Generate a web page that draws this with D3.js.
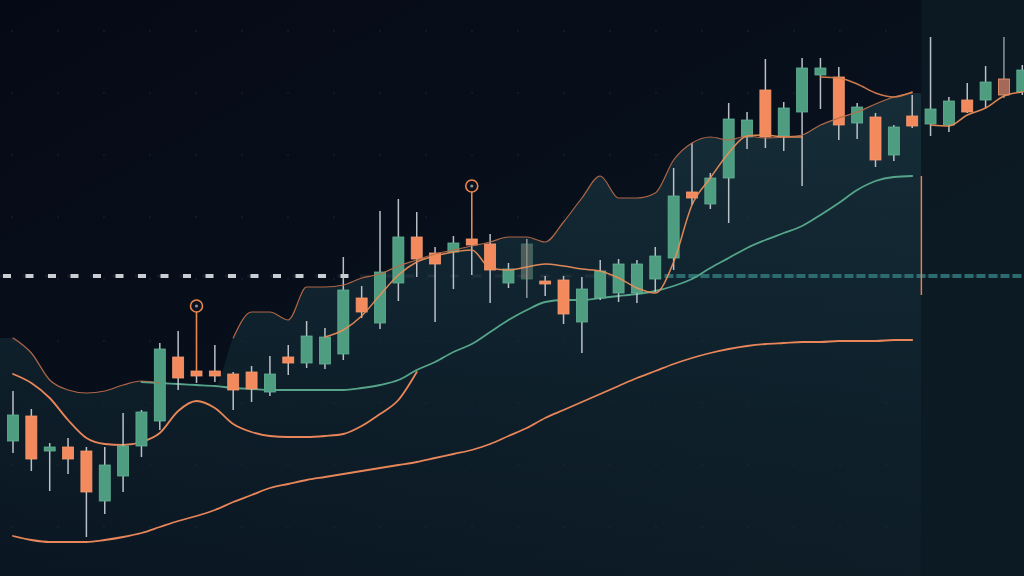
<!DOCTYPE html>
<html><head><meta charset="utf-8">
<script src="https://cdn.jsdelivr.net/npm/d3@7"></script>
<style>html,body{margin:0;padding:0;background:#070d1a;overflow:hidden}svg{display:block}</style>
</head><body><svg id="c" width="1024" height="576"></svg>
<script>
// ---------------- data ----------------
const categories = d3.range(1, 57).map(d => "T" + d);
const open  = [113.5,116.0,112.5,112.9,112.5,107.5,110.0,113.0,115.5,121.9,
               120.5,120.5,120.2,120.4,118.4,121.9,121.3,121.2,122.2,127.8,
               125.3,129.3,133.9,132.3,132.4,133.7,133.2,129.3,129.7,129.5,
               129.6,125.4,127.8,128.3,128.3,129.7,131.8,138.4,137.2,139.8,
               143.9,148.6,144.0,146.4,150.1,149.9,145.3,145.9,142.1,146.0,
               145.2,145.1,147.6,147.6,149.7,148.4];
const high  = [118.5,116.7,113.3,113.8,112.9,112.9,116.3,116.6,123.3,124.5,
               120.5,123.1,120.4,121.0,122.0,123.1,125.5,124.8,131.9,129.0,
               136.5,137.7,136.4,132.9,134.0,133.7,134.2,131.3,133.7,130.0,
               130.0,129.9,131.6,131.7,131.6,132.9,140.8,143.3,140.3,147.3,
               146.4,151.7,147.4,151.8,151.8,150.9,147.3,146.3,145.1,148.1,
               153.9,147.9,149.3,151.0,153.9,151.1];
const low   = [112.3,110.5,108.5,110.2,103.9,106.2,108.4,111.9,114.6,118.6,
               119.3,119.4,116.6,117.4,118.0,120.1,120.8,120.7,121.6,125.8,
               124.7,127.5,129.9,125.4,128.7,130.1,127.3,128.8,127.8,128.0,
               125.2,122.3,127.6,127.4,127.3,128.4,130.6,137.1,136.7,135.3,
               142.7,142.8,142.5,139.0,146.7,143.6,143.7,140.9,141.5,144.8,
               144.0,144.4,146.3,146.8,147.8,148.1];
const close = [116.1,111.7,112.9,111.7,108.4,111.1,113.0,116.4,122.7,119.8,
               120.0,120.0,118.6,118.7,120.2,121.3,124.0,123.9,128.6,126.4,
               130.4,133.9,131.7,131.2,133.3,133.1,130.6,130.7,133.2,129.2,
               126.2,128.7,130.5,131.2,131.2,132.0,138.0,137.8,139.8,145.7,
               145.6,143.9,146.8,150.8,150.8,145.1,146.9,141.6,144.9,145.0,
               146.7,147.5,146.4,149.4,148.1,150.6];

// teal mid moving average
const maMid = [null,null,null,null,null,null,null,119.4,119.3,119.2,
               119.1,119.0,118.8,118.7,118.6,118.6,118.6,118.6,118.6,118.8,
               119.1,119.6,120.6,121.4,122.4,123.2,124.4,125.6,126.6,127.4,
               127.6,127.6,127.8,128.0,128.2,128.5,129.0,129.7,130.8,131.8,
               132.8,133.6,134.3,135.0,136.1,137.3,138.6,139.5,139.9,140.0,
               null,null,null,null,null,null];
// lower band (orange)
const bandLower = [120.2,119.3,117.8,115.6,113.8,113.2,113.1,113.4,114.3,116.5,
                   117.5,116.8,115.2,114.4,114.0,113.9,113.9,114.0,114.2,115.0,
                   116.2,117.6,120.4,null,null,null,null,null,null,null,
                   null,null,null,null,null,null,null,null,null,null,
                   null,null,null,null,null,null,null,null,null,null,
                   null,null,null,null,null,null];
// long moving average (orange, bottom)
const maLong = [104.0,103.6,103.4,103.4,103.4,103.6,103.9,104.3,104.9,105.5,
                106.0,106.6,107.4,108.1,108.8,109.2,109.6,109.9,110.2,110.5,
                110.8,111.1,111.4,111.8,112.2,112.6,113.2,114.0,114.8,115.8,
                116.6,117.4,118.2,119.0,119.8,120.5,121.2,121.8,122.3,122.7,
                123.0,123.2,123.3,123.4,123.4,123.5,123.5,123.5,123.6,123.6,
                null,null,null,null,null,null];
// upper envelope (thin brown, top of shaded zone)
const envelope = [123.8,122.3,119.6,118.6,118.3,118.5,119.1,119.5,119.3,null,
                  null,null,123.8,126.4,126.4,125.6,128.9,128.9,129.1,129.8,
                  130.2,131.0,131.6,132.2,132.6,133.0,133.4,133.9,133.9,133.4,
                  135.4,137.8,140.0,137.8,137.8,138.3,141.6,143.3,143.9,143.6,
                  144.0,143.8,143.9,144.1,145.1,145.8,146.4,147.2,147.9,148.3,
                  null,null,null,null,null,null];
// fast moving average (orange, through candles)
const fastMA = [null,null,null,null,null,null,null,null,null,null,
                null,null,null,null,null,null,null,123.9,124.6,126.0,
                128.1,130.1,131.4,132.0,132.4,132.6,130.8,130.6,130.9,131.2,
                131.0,130.7,130.5,129.8,128.8,128.3,131.4,137.1,139.8,142.3,
                144.0,144.1,143.9,143.9,null,null,null,null,null,null,
                145.1,145.0,146.1,146.8,148.0,148.4];
// short upper trail near the highs
const upperTrail = [null,null,null,null,null,null,null,null,null,null,
                    null,null,null,null,null,null,null,null,null,null,
                    null,null,null,null,null,null,null,null,null,null,
                    null,null,null,null,null,null,null,null,null,null,
                    null,null,null,null,149.9,149.8,149.2,148.3,147.9,148.4,
                    null,null,null,null,null,null];
// signal markers (candle index, price)
const signalIndex = [10, 25];
const signalPrice = [127.0, 139.0];
// horizontal level
const levelPrice = 130.0;
// panel divider after candle 49
const dividerAfter = 49;
const dividerFrom = 128.1, dividerTo = 140.0;
const fadedCandles = [28, 54];

// ---------------- chart ----------------
const W = 1024, H = 576;
const svg = d3.select("#c");
const x = d3.scalePoint().domain(categories).range([13, 1022.3]);
const step = x.step();
const xi = i => x(categories[0]) + i * step;
const y = d3.scaleLinear().domain([100, 157.6]).range([H, 0]);

const defs = svg.append("defs");
const bg = defs.append("linearGradient").attr("id","bg").attr("x1","0").attr("y1","0").attr("x2","1").attr("y2","1");
bg.append("stop").attr("offset","0").attr("stop-color","#050915");
bg.append("stop").attr("offset","0.55").attr("stop-color","#08111d");
bg.append("stop").attr("offset","1").attr("stop-color","#0d1923");
const sh = defs.append("linearGradient").attr("id","shade").attr("gradientUnits","userSpaceOnUse")
  .attr("x1",0).attr("y1",80).attr("x2",0).attr("y2",H);
sh.append("stop").attr("offset","0").attr("stop-color","#1a3540").attr("stop-opacity",0.8);
sh.append("stop").attr("offset","0.5").attr("stop-color","#15303a").attr("stop-opacity",0.55);
sh.append("stop").attr("offset","1").attr("stop-color","#112630").attr("stop-opacity",0.3);

svg.append("rect").attr("width",W).attr("height",H).attr("fill","url(#bg)");

// faint dot grid
const dots = svg.append("g").attr("fill","#35414f").attr("opacity",0.55);
for (let gy = 31; gy < H; gy += 62) for (let gx = 12; gx < W; gx += 46)
  dots.append("circle").attr("cx",gx).attr("cy",gy).attr("r",0.8);

// shaded zone
const boundaryX = xi(dividerAfter + 0.5);
const topVals = d3.range(0, dividerAfter + 1).map(i => ({xp: x(categories[i]), v: envelope[i] != null ? envelope[i] : maMid[i]}));
const areaPts = [{xp: 0, v: topVals[0].v}, ...topVals, {xp: boundaryX, v: topVals[topVals.length-1].v}];
svg.append("path")
  .attr("d", d3.area().x(d => d.xp).y0(H).y1(d => y(d.v)).curve(d3.curveMonotoneX)(areaPts))
  .attr("fill","url(#shade)");

// right panel
svg.append("rect").attr("x",boundaryX).attr("y",0).attr("width",W-boundaryX).attr("height",H)
  .attr("fill","#0d1a24").attr("opacity",0.95);

// level line
const yl = y(levelPrice);
svg.append("line").attr("x1",0).attr("x2",W).attr("y1",yl).attr("y2",yl)
  .attr("stroke","#5a6878").attr("stroke-width",3).attr("stroke-dasharray","9 13.5").attr("opacity",0.18);
svg.append("line").attr("x1",3).attr("x2",xi(19)).attr("y1",yl).attr("y2",yl)
  .attr("stroke","#c9cdd4").attr("stroke-width",4).attr("stroke-dasharray","8 14.5");
svg.append("line").attr("x1",xi(35.5)).attr("x2",W).attr("y1",yl).attr("y2",yl)
  .attr("stroke","#2c6c71").attr("stroke-width",4).attr("stroke-dasharray","9 3");

const lineGen = d3.line().defined(d => d != null).x((d,i) => x(categories[i])).y(d => y(d)).curve(d3.curveMonotoneX);
function drawLine(arr, color, w, op) {
  svg.append("path").attr("d", lineGen(arr)).attr("fill","none")
    .attr("stroke",color).attr("stroke-width",w).attr("opacity",op||1)
    .attr("stroke-linecap","round").attr("stroke-linejoin","round");
}
drawLine(maLong, "#e8865a", 1.8);
drawLine(bandLower, "#e8865a", 1.8);
drawLine(maMid, "#56a58b", 1.8);

// candles
const idx = d3.range(categories.length);
const g = svg.append("g");
const bw = 11;
g.selectAll("line.w").data(idx).join("line")
  .attr("x1", i => x(categories[i])).attr("x2", i => x(categories[i]))
  .attr("y1", i => y(high[i])).attr("y2", i => y(low[i]))
  .attr("stroke","#c4c9d0").attr("stroke-width",1.5)
  .attr("opacity", i => fadedCandles.includes(i) ? 0.7 : 0.95);
g.selectAll("rect.b").data(idx).join("rect")
  .attr("x", i => x(categories[i]) - bw/2)
  .attr("y", i => y(Math.max(open[i], close[i])))
  .attr("width", bw)
  .attr("height", i => Math.max(2, Math.abs(y(open[i]) - y(close[i]))))
  .attr("fill", i => {
    const up = close[i] >= open[i];
    if (i === 28) return "#7f8a7a";
    if (i === 54) return "#a5695a";
    return up ? "#4f9d80" : "#f28a5d";
  })
  .attr("stroke", i => close[i] >= open[i] ? "#62b193" : "#f79a70")
  .attr("stroke-width", 0.8)
  .attr("opacity", i => i === 28 ? 0.55 : 1);

drawLine(envelope, "#b86a49", 1.2, 0.95);
drawLine(fastMA, "#e98d58", 1.5, 0.95);
drawLine(upperTrail, "#d8804f", 1.5, 0.95);

// divider
svg.append("line").attr("x1",boundaryX).attr("x2",boundaryX)
  .attr("y1",y(dividerTo)).attr("y2",y(dividerFrom))
  .attr("stroke","#e0804f").attr("stroke-width",1.5);

// signals
signalIndex.forEach((ci, k) => {
  const cx = x(categories[ci]);
  const top = y(Math.max(open[ci], close[ci]));
  const cy = y(signalPrice[k]);
  svg.append("line").attr("x1",cx).attr("x2",cx).attr("y1",top).attr("y2",cy+6)
    .attr("stroke","#e8864f").attr("stroke-width",1.6);
  svg.append("circle").attr("cx",cx).attr("cy",cy).attr("r",6)
    .attr("fill","#0a111d").attr("stroke","#e8864f").attr("stroke-width",1.6);
  svg.append("circle").attr("cx",cx).attr("cy",cy).attr("r",1.6).attr("fill","#8b9099");
});
</script></body></html>
